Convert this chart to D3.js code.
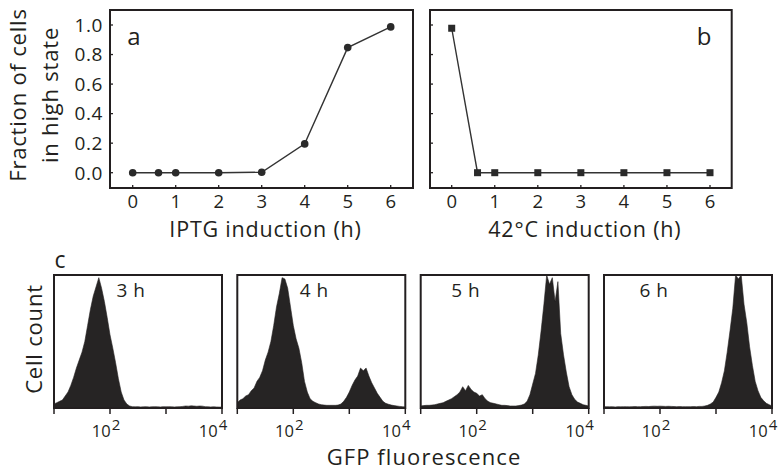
<!DOCTYPE html>
<html><head><meta charset="utf-8">
<script src="https://cdn.jsdelivr.net/npm/d3@7"></script>
<style>
html,body{margin:0;padding:0;background:#fff;}
svg{display:block;font-family:"Open Sans",sans-serif;}
</style></head>
<body>
<svg id="chart" width="779" height="470"></svg>
<script>
// ---- data ----
const hoursA = [0, 0.6, 1, 2, 3, 4, 5, 6];
const fracA  = [0, 0, 0, 0, 0.003, 0.195, 0.847, 0.987];
const hoursB = [0, 0.6, 1, 2, 3, 4, 5, 6];
const fracB  = [0.978, 0, 0, 0, 0, 0, 0, 0];
const hourTicks = [0, 1, 2, 3, 4, 5, 6];
const fracTicks = [0, 0.2, 0.4, 0.6, 0.8, 1.0];
const histLabels = ["3 h", "4 h", "5 h", "6 h"];
const gfpTicks = [10, 100, 1000, 10000];
const gfpTickLabels = {100: "2", 10000: "4"};
// log10 GFP bin centres 1.00 .. 4.00 step 0.05
const binLog = d3.range(61).map(i => 1 + i * 0.05);
const hist3h = [0.03,0.04,0.05,0.06,0.09,0.12,0.17,0.23,0.30,0.36,0.42,0.50,0.62,0.74,0.84,0.91,0.98,0.90,0.80,0.68,
  0.55,0.45,0.34,0.22,0.12,0.06,0.03,0.015,0.01,0.009,0.01,0.008,0.009,0.01,0.008,0.009,0.01,0.009,0.008,0.01,
  0.009,0.01,0.009,0.008,0.009,0.01,0.012,0.015,0.014,0.016,0.015,0.013,0.015,0.014,0.01,0.009,0.008,0.009,0.008,0.007,0.007];
const hist4h = [0.04,0.06,0.07,0.09,0.10,0.13,0.15,0.20,0.23,0.28,0.36,0.42,0.50,0.62,0.76,0.86,0.98,0.97,0.90,0.76,
  0.62,0.52,0.45,0.34,0.20,0.12,0.07,0.05,0.04,0.03,0.025,0.022,0.02,0.02,0.02,0.02,0.022,0.03,0.05,0.08,
  0.12,0.17,0.21,0.24,0.30,0.28,0.30,0.24,0.19,0.15,0.11,0.08,0.05,0.035,0.028,0.022,0.018,0.015,0.012,0.01,0.008];
const hist5h = [0.015,0.018,0.02,0.02,0.022,0.025,0.03,0.035,0.04,0.05,0.06,0.07,0.085,0.10,0.12,0.16,0.13,0.17,0.14,0.12,
  0.11,0.09,0.10,0.07,0.05,0.04,0.035,0.03,0.025,0.02,0.02,0.018,0.015,0.015,0.015,0.018,0.022,0.03,0.05,0.10,
  0.18,0.26,0.40,0.58,0.78,1.0,0.93,0.98,0.80,0.95,0.56,0.40,0.27,0.16,0.10,0.065,0.045,0.035,0.025,0.02,0.015];
const hist6h = [0.01,0.01,0.009,0.01,0.008,0.01,0.009,0.01,0.01,0.009,0.01,0.011,0.01,0.01,0.011,0.012,0.011,0.013,0.014,0.013,
  0.014,0.013,0.012,0.013,0.012,0.011,0.01,0.011,0.01,0.01,0.01,0.01,0.011,0.01,0.012,0.012,0.015,0.02,0.03,0.045,
  0.08,0.12,0.19,0.28,0.42,0.58,0.75,1.0,0.97,1.0,0.78,0.64,0.46,0.32,0.20,0.13,0.08,0.055,0.035,0.025,0.015];
const histData = [hist3h, hist4h, hist5h, hist6h];

// ---- drawing ----
const svg = d3.select("#chart");
const ink = "#231f20";

const frameTop = 10, frameBot = 188;
const yFrac = d3.scaleLinear().domain([0, 1]).range([172.7, 25]);

function linePanel(x0, x1, xr, hours, vals, square, showY, letter, letterX, xTitle) {
  const x = d3.scaleLinear().domain([0, 6]).range(xr);
  const g = svg.append("g");
  g.append("rect").attr("x", x0).attr("y", frameTop).attr("width", x1 - x0).attr("height", frameBot - frameTop)
    .attr("fill", "none").attr("stroke", ink).attr("stroke-width", 2);
  g.selectAll(".yt").data(fracTicks).enter().append("line")
    .attr("x1", x0).attr("x2", x0 + 3).attr("y1", d => yFrac(d)).attr("y2", d => yFrac(d))
    .attr("stroke", ink).attr("stroke-width", 1.3);
  if (showY) {
    g.selectAll(".yl").data(fracTicks).enter().append("text")
      .attr("x", x0 - 7).attr("y", d => yFrac(d)).attr("dy", "0.36em")
      .attr("text-anchor", "end").attr("font-size", 19).attr("letter-spacing", 0.6).attr("fill", ink)
      .text(d => d3.format(".1f")(d));
  }
  g.selectAll(".xt").data(hourTicks).enter().append("line")
    .attr("x1", d => x(d)).attr("x2", d => x(d)).attr("y1", frameBot).attr("y2", frameBot - 3)
    .attr("stroke", ink).attr("stroke-width", 1.3);
  g.selectAll(".xl").data(hourTicks).enter().append("text")
    .attr("x", d => x(d)).attr("y", 208).attr("text-anchor", "middle")
    .attr("font-size", 18.5).attr("fill", ink).text(d => d);
  g.append("text").attr("x", (x0 + x1) / 2 + 4).attr("y", 237).attr("text-anchor", "middle")
    .attr("font-size", 21.5).attr("letter-spacing", 0.8).attr("fill", ink).text(xTitle);
  const pts = hours.map((h, i) => [h, vals[i]]);
  g.append("path").datum(pts)
    .attr("d", d3.line().x(d => x(d[0])).y(d => yFrac(d[1])))
    .attr("fill", "none").attr("stroke", "#333").attr("stroke-width", 1.4);
  if (square) {
    g.selectAll(".pt").data(pts).enter().append("rect")
      .attr("x", d => x(d[0]) - 3.5).attr("y", d => yFrac(d[1]) - 3.5)
      .attr("width", 7).attr("height", 7).attr("fill", "#2a2a2a");
  } else {
    g.selectAll(".pt").data(pts).enter().append("circle")
      .attr("cx", d => x(d[0])).attr("cy", d => yFrac(d[1])).attr("r", 3.8).attr("fill", "#2a2a2a");
  }
  g.append("text").attr("x", letterX).attr("y", 45).attr("text-anchor", "middle")
    .attr("font-size", 24).attr("fill", ink).text(letter);
}

linePanel(110, 413, [132.7, 390.7], hoursA, fracA, false, true, "a", 134, "IPTG induction (h)");
linePanel(430, 731.7, [451.7, 710], hoursB, fracB, true, false, "b", 704, "42°C induction (h)");

const yt = svg.append("text").attr("transform", "translate(0,95) rotate(-90)")
  .attr("text-anchor", "middle").attr("font-size", 22).attr("letter-spacing", 0.8).attr("fill", ink);
yt.append("tspan").attr("x", 0).attr("y", 26).text("Fraction of cells");
yt.append("tspan").attr("x", 0).attr("y", 58).text("in high state");

// ---- histograms ----
svg.append("text").attr("x", 60).attr("y", 268).attr("text-anchor", "middle")
  .attr("font-size", 23).attr("fill", ink).text("c");

const hLefts = [54, 237.3, 420.7, 604];
const hW = 168, hTop = 275, hBot = 408;
const yH = d3.scaleLinear().domain([0, 1]).range([hBot, hTop]);
const labelDx = [77, 77, 45, 50];
const tickLabelDx = {100: -4, 10000: -9};

hLefts.forEach((lx, k) => {
  const xs = d3.scaleLog().domain([10, 10000]).range([lx, lx + hW]);
  const g = svg.append("g");
  const cid = "clip" + k;
  svg.append("clipPath").attr("id", cid).append("rect")
    .attr("x", lx).attr("y", hTop).attr("width", hW).attr("height", hBot - hTop);
  const pts = binLog.map((L, i) => [Math.pow(10, L), histData[k][i]]);
  g.append("path").datum(pts).attr("clip-path", `url(#${cid})`)
    .attr("d", d3.area().curve(d3.curveLinear).x(d => xs(d[0])).y0(yH(0)).y1(d => yH(d[1])))
    .attr("fill", "#262424").attr("stroke", "#262424").attr("stroke-width", 0.6);
  g.append("rect").attr("x", lx).attr("y", hTop).attr("width", hW).attr("height", hBot - hTop)
    .attr("fill", "none").attr("stroke", ink).attr("stroke-width", 2);
  g.selectAll(".t").data(gfpTicks).enter().append("line")
    .attr("x1", d => xs(d)).attr("x2", d => xs(d)).attr("y1", hBot).attr("y2", hBot + 6)
    .attr("stroke", ink).attr("stroke-width", 1.5);
  const lab = g.selectAll(".tl").data(gfpTicks.filter(d => gfpTickLabels[d])).enter().append("text")
    .attr("x", d => xs(d) + tickLabelDx[d]).attr("y", 436.5).attr("text-anchor", "middle")
    .attr("font-size", 16.5).attr("fill", ink);
  lab.append("tspan").text("10");
  lab.append("tspan").attr("dx", 1).attr("dy", -7).attr("font-size", 15).text(d => gfpTickLabels[d]);
  g.append("text").attr("x", lx + labelDx[k]).attr("y", 297).attr("text-anchor", "middle")
    .attr("font-size", 19).attr("letter-spacing", 0.5).attr("fill", ink).text(histLabels[k]);
});

svg.append("text").attr("x", 424).attr("y", 465).attr("text-anchor", "middle")
  .attr("font-size", 22).attr("letter-spacing", 1.1).attr("fill", ink).text("GFP fluorescence");
svg.append("text").attr("transform", "translate(42,339) rotate(-90)")
  .attr("text-anchor", "middle").attr("font-size", 22).attr("letter-spacing", 0.8).attr("fill", ink).text("Cell count");
</script>
</body></html>
